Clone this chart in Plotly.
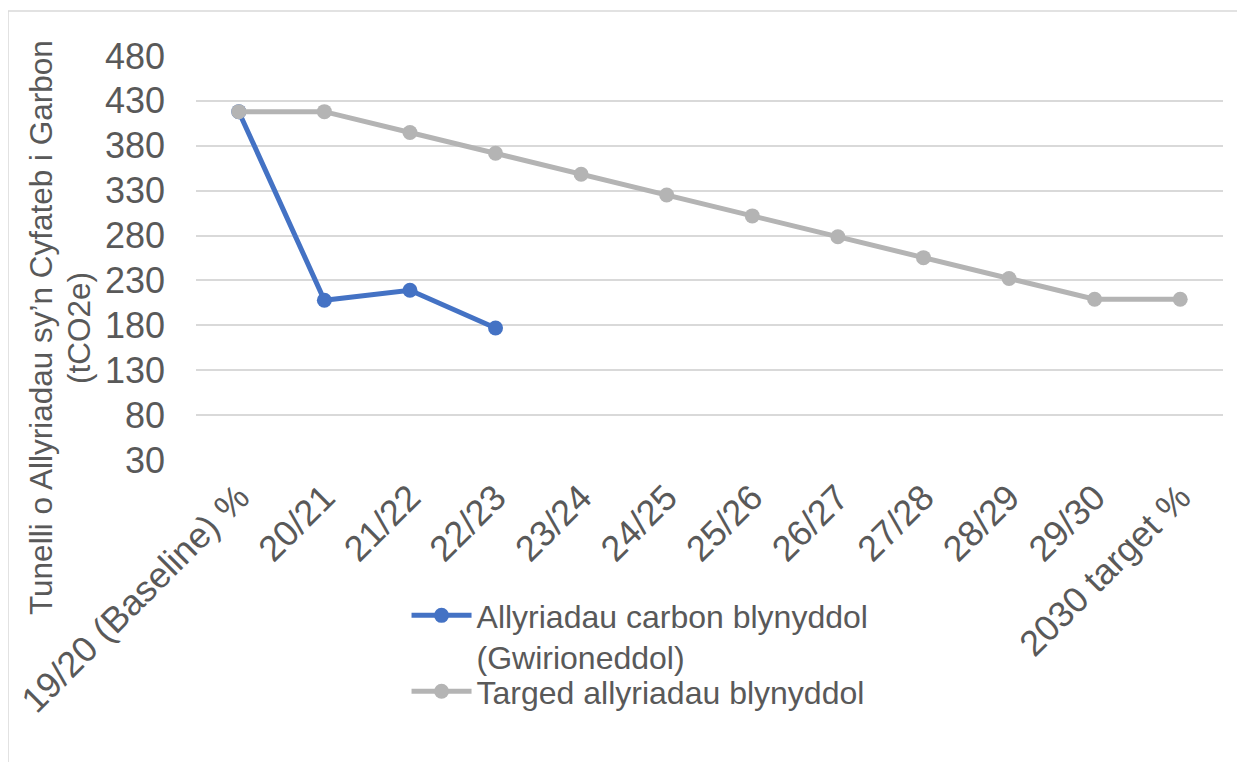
import plotly.graph_objects as go

categories = ["19/20 (Baseline) %", "20/21", "21/22", "22/23", "23/24", "24/25",
              "25/26", "26/27", "27/28", "28/29", "29/30", "2030 target %"]
actual = [418, 208, 219, 177]
target = [418, 418, 394.8, 371.6, 348.3, 325.1, 301.9, 278.7, 255.4, 232.2, 209, 209]
yticks = [30, 80, 130, 180, 230, 280, 330, 380, 430, 480]

name_actual = "Allyriadau carbon blynyddol<br>(Gwirioneddol)"
name_target = "Targed allyriadau blynyddol"
ytitle_1 = "Tunelli o Allyriadau sy’n Cyfateb i Garbon"
ytitle_2 = "(tCO2e)"

txt = "#595959"
font_family = "Arial, Liberation Sans, sans-serif"

# page body has an 8px offset; compensate in margins
OFF = 8
L, T, PW, PH = 196 - OFF, 56 - OFF, 1027, 404

fig = go.Figure()
fig.add_trace(go.Scatter(x=categories[:len(actual)], y=actual, name=name_actual,
                         mode="lines+markers", legend="legend",
                         line=dict(color="#4472C4", width=5),
                         marker=dict(color="#4472C4", size=15)))
fig.add_trace(go.Scatter(x=categories, y=target, name=name_target,
                         mode="lines+markers", legend="legend2",
                         line=dict(color="#B4B4B4", width=5),
                         marker=dict(color="#B4B4B4", size=15)))

legend_common = dict(xanchor="left", yanchor="top",
                     font=dict(size=32, color=txt), valign="top",
                     itemwidth=60, tracegroupgap=0, bgcolor="rgba(0,0,0,0)")

fig.update_layout(
    width=1245, height=762,
    margin=dict(l=L, r=1245 - L - PW, t=T, b=762 - T - PH, autoexpand=False),
    paper_bgcolor="white", plot_bgcolor="white",
    font=dict(family=font_family, color=txt),
    showlegend=True,
    legend=dict(x=0.205, y=-0.317, **legend_common),
    legend2=dict(x=0.205, y=-0.505, **legend_common),
    xaxis=dict(type="category", categoryorder="array", categoryarray=categories,
               range=[-0.5, 11.5], tickangle=-45, tickfont=dict(size=36, color=txt),
               showgrid=False, showline=False, zeroline=False, ticks="", automargin=False,
               ticklabelstandoff=8),
    yaxis=dict(range=[30, 480], tickvals=yticks, tickfont=dict(size=36, color=txt),
               showgrid=True, gridcolor="#D9D9D9", gridwidth=1.5, automargin=False,
               zeroline=False, showline=False, ticks="", ticklabelstandoff=30),
    annotations=[
        dict(text=ytitle_1, textangle=-90, xref="paper", yref="paper",
             x=(41 - 196) / PW, y=(460 - 328) / PH, xanchor="center", yanchor="middle",
             showarrow=False, font=dict(size=31.5, color=txt)),
        dict(text=ytitle_2, textangle=-90, xref="paper", yref="paper",
             x=(79 - 196) / PW, y=(460 - 328) / PH, xanchor="center", yanchor="middle",
             showarrow=False, font=dict(size=31.5, color=txt)),
    ],
    shapes=[dict(type="rect", xref="paper", yref="paper",
                 x0=(8 - 196) / PW, x1=(1240 - 196) / PW,
                 y0=(460 - 770) / PH, y1=(460 - 11) / PH,
                 line=dict(color="#D9D9D9", width=1.5), layer="below")],
)

fig.write_html("out.html")
